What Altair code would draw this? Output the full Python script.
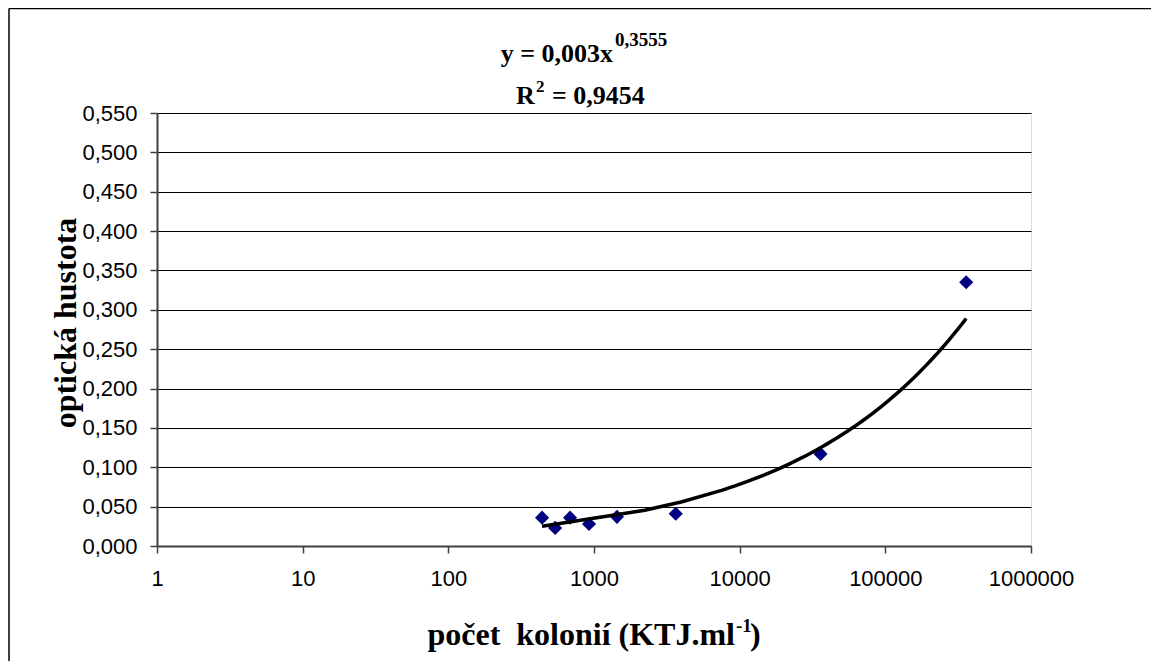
import altair as alt
import pandas as pd

# data
kolonie = [440, 541, 685, 924, 1438, 3640, 35900, 359000]
hustota = [0.036, 0.023, 0.036, 0.028, 0.037, 0.041, 0.117, 0.335]
x_ticks = [1, 10, 100, 1000, 10000, 100000, 1000000]
y_ticks = [0.0, 0.05, 0.1, 0.15, 0.2, 0.25, 0.3, 0.35, 0.4, 0.45, 0.5, 0.55]

df = pd.DataFrame({"x": kolonie, "y": hustota})

W, H = 874, 433
SERIF = "Liberation Serif"
SANS = "Liberation Sans"

x_enc = alt.X(
    "x:Q",
    scale=alt.Scale(type="log", domain=[1, 1000000], nice=False),
    axis=alt.Axis(values=x_ticks, format="d", title=None, grid=False,
                  labelFont=SANS, labelFontSize=22, labelColor="black",
                  labelPadding=15, tickSize=7, tickColor="#404040",
                  domainColor="#404040", domainWidth=2, tickWidth=1.5,
                  labelFlush=False, labelOverlap=False),
)
y_enc = alt.Y(
    "y:Q",
    scale=alt.Scale(domain=[0, 0.55], nice=False),
    axis=alt.Axis(values=y_ticks, title=None, grid=True, gridColor="black",
                  gridWidth=1,
                  labelExpr="replace(format(datum.value, '.3f'), '.', ',')",
                  labelFont=SANS, labelFontSize=22, labelColor="black",
                  labelPadding=13, tickSize=7, tickColor="#404040",
                  domainColor="#404040", domainWidth=2, tickWidth=1.5,
                  labelFlush=False, labelOverlap=False),
)

base = alt.Chart(df)

points = base.mark_point(shape="diamond", filled=True, size=200,
                         color="#000080", opacity=1).encode(x=x_enc, y=y_enc)

trend = base.transform_regression("x", "y", method="pow").mark_line(
    color="black", strokeWidth=3.5).encode(x=x_enc, y=y_enc)

one = alt.Data(values=[{"a": 1}])


def txt(s, x, y, size, align="left", baseline="alphabetic", angle=0, font=SERIF):
    kw = dict(align=align, baseline=baseline, font=font, fontSize=size,
              fontWeight="bold", color="black")
    if angle:
        kw["angle"] = angle
    return alt.Chart(one).mark_text(**kw).encode(
        x=alt.value(x), y=alt.value(y), text=alt.value(s))


texts = [
    txt("optická hustota", -91, 210, 32, align="center", baseline="middle", angle=270),
    txt("počet\u00a0 kolonií (KTJ.ml", 578, 532, 32, align="right"),
    txt("-1", 579, 519, 19),
    txt(")", 593, 532, 32),
    txt("y = 0,003x", 456, -51, 26, align="right"),
    txt("0,3555", 458, -67, 19),
    txt("R", 359, -9, 26),
    txt("2", 379, -21, 17),
    txt("= 0,9454", 395, -9, 26),
]

frame_left = alt.Chart(one).mark_rule(color="black", strokeWidth=1.5).encode(
    x=alt.value(-148), y=alt.value(-104.5), y2=alt.value(H + 200))
frame_top = alt.Chart(one).mark_rule(color="black", strokeWidth=1.5).encode(
    x=alt.value(-148), x2=alt.value(W + 200), y=alt.value(-104.5))

chart = alt.layer(points, trend, frame_left, frame_top, *texts).properties(
    width=W, height=H,
    padding={"left": 149, "top": 105, "right": 120, "bottom": 115},
    autosize=alt.AutoSizeParams(type="none"),
).configure_view(stroke="#808080", strokeWidth=2.5).configure(background="white")

chart.save("out.html", embed_options={"renderer": "svg", "actions": False})
